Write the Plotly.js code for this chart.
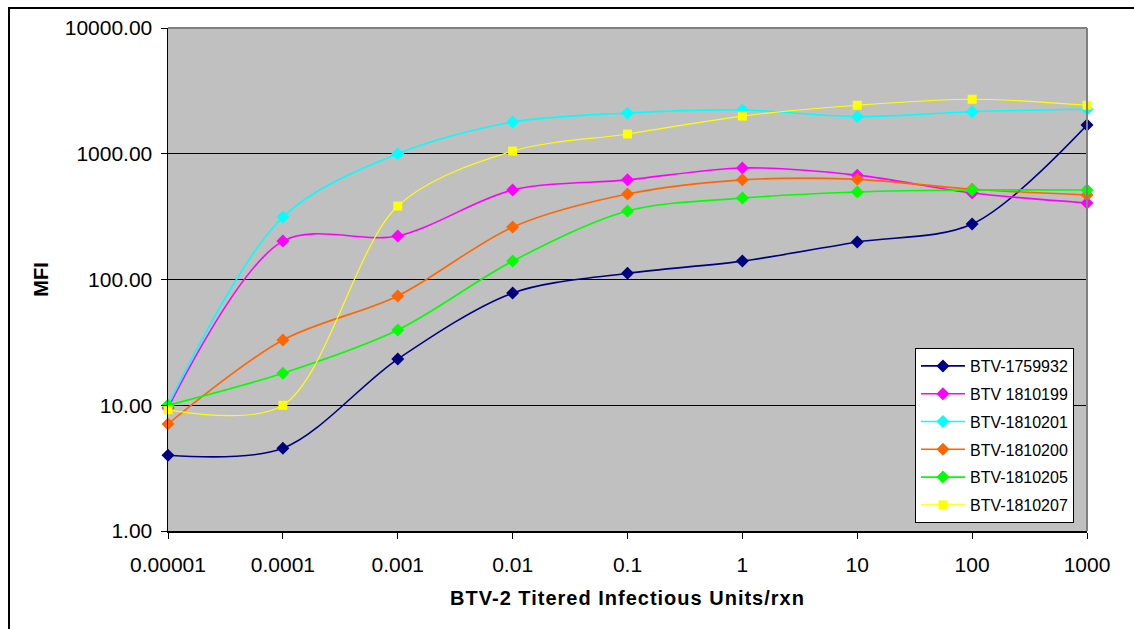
<!DOCTYPE html>
<html>
<head>
<meta charset="utf-8">
<script src="https://cdn.plot.ly/plotly-3.0.1.min.js"></script>
<style>
  html, body { margin: 0; padding: 0; background: #ffffff; }
  #wrap { position: relative; width: 1134px; height: 629px; overflow: hidden; }
  #chart { position: absolute; left: 0; top: 0; width: 1134px; height: 629px; }
  #frame { position: absolute; left: 8px; top: 7px; width: 1140px; height: 640px;
           border-left: 2px solid #000; border-top: 2px solid #000; pointer-events: none; }
  #chart .xtitle { letter-spacing: 1px; }
</style>
</head>
<body>
<div id="wrap">
  <div id="chart"></div>
  <div id="frame"></div>
</div>
<script>
// Dilution series (titered infectious units per reaction)
const dilutions = [0.00001, 0.0001, 0.001, 0.01, 0.1, 1, 10, 100, 1000];
const dilutionLabels = ["0.00001", "0.0001", "0.001", "0.01", "0.1", "1", "10", "100", "1000"];

// Median fluorescence intensity per sample
const btv1759932 = [4.0, 4.55, 23.3, 78, 112, 140, 199, 276, 1690];
const btv1810199 = [9.5, 202, 222, 515, 620, 771, 676, 487, 406];
const btv1810201 = [10, 314, 1000, 1787, 2110, 2230, 1975, 2160, 2256];
const btv1810200 = [7.1, 33, 74, 261, 478, 620, 626, 522, 470];
const btv1810205 = [10, 18, 39.7, 140, 351, 444, 497, 515, 515];
const btv1810207 = [9.2, 10, 384, 1050, 1436, 1995, 2430, 2712, 2430];

const yTicks = [1, 10, 100, 1000, 10000];
const yTickLabels = ["1.00", "10.00", "100.00", "1000.00", "10000.00"];

function series(name, values, color, symbol, width, size) {
  return {
    type: "scatter",
    mode: "lines+markers",
    name: name,
    x: dilutions,
    y: values,
    legendgroup: name,
    line: { color: color, width: width, shape: "spline", smoothing: 0.9 },
    marker: { color: color, symbol: symbol, size: size, line: { width: 0 } },
    cliponaxis: false
  };
}

const traces = [
  series("BTV-1759932", btv1759932, "#000080", "diamond", 1.6, 10),
  series("BTV 1810199", btv1810199, "#FF00FF", "diamond", 1.6, 10),
  series("BTV-1810201", btv1810201, "#00FFFF", "diamond", 1.6, 10),
  series("BTV-1810200", btv1810200, "#FF6600", "diamond", 1.6, 10),
  series("BTV-1810205", btv1810205, "#00FF00", "diamond", 1.6, 10),
  series("BTV-1810207", btv1810207, "#FFFF00", "square", 1.2, 9)
];

const layout = {
  width: 1134,
  height: 629,
  margin: { l: 168, r: 47, t: 28, b: 98 },
  paper_bgcolor: "#ffffff",
  plot_bgcolor: "#C0C0C0",
  font: { family: "Liberation Sans, Arial, sans-serif", size: 16, color: "#000" },
  showlegend: true,
  legend: {
    x: 0.8128, y: 0.3638, xanchor: "left", yanchor: "top",
    bgcolor: "#ffffff", bordercolor: "#000000", borderwidth: 1,
    font: { size: 16, color: "#000" },
    itemwidth: 44,
    traceorder: "grouped", tracegroupgap: 4
  },
  xaxis: {
    type: "log",
    range: [-5, 3],
    tickvals: dilutions,
    ticktext: dilutionLabels,
    ticks: "outside", ticklen: 6, tickcolor: "#000",
    ticklabelstandoff: 8,
    showgrid: false, zeroline: false,
    showline: true, linecolor: "#000", linewidth: 1.5,
    mirror: false,
    tickfont: { size: 21 },
    title: { text: "<b>BTV-2 Titered Infectious Units/rxn</b>", font: { size: 20 }, standoff: 16 }
  },
  yaxis: {
    type: "log",
    range: [0, 4],
    tickvals: yTicks,
    ticktext: yTickLabels,
    ticks: "outside", ticklen: 6, tickcolor: "#000",
    ticklabelstandoff: 4,
    showgrid: true, gridcolor: "#000", gridwidth: 1,
    zeroline: false,
    showline: true, linecolor: "#000", linewidth: 1.5,
    tickfont: { size: 21 },
    title: { text: "<b>MFI</b>", font: { size: 20 }, standoff: 10 }
  },
  shapes: [
    { type: "line", xref: "paper", yref: "paper", x0: 0, x1: 1, y0: 1, y1: 1,
      line: { color: "#808080", width: 2 } },
    { type: "line", xref: "paper", yref: "paper", x0: 1, x1: 1, y0: 0, y1: 1,
      line: { color: "#808080", width: 2 } }
  ]
};

Plotly.newPlot("chart", traces, layout, { displayModeBar: false, staticPlot: true });
</script>
</body>
</html>
